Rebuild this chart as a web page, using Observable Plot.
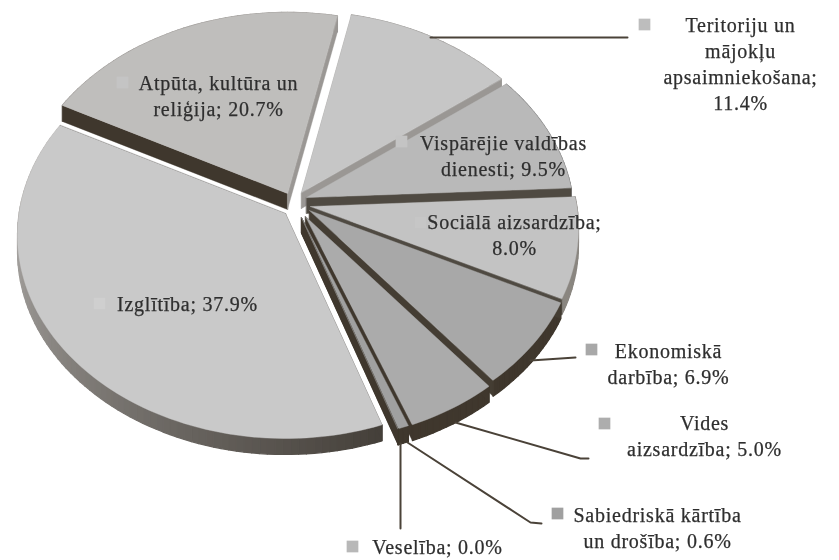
<!DOCTYPE html>
<html><head><meta charset="utf-8">
<script src="https://cdn.jsdelivr.net/npm/d3@7"></script>
<script src="https://cdn.jsdelivr.net/npm/@observablehq/plot@0.6"></script>
<style>html,body{margin:0;padding:0;background:#fff}svg{display:block;filter:blur(0.5px)}svg text{letter-spacing:0.75px}</style>
</head><body><div id="chart"></div>
<script>
// data (clockwise from the start angle)
const categories = ["Izglītība","Atpūta, kultūra un reliģija","Teritoriju un mājokļu apsaimniekošana","Vispārējie valdības dienesti","Sociālā aizsardzība","Ekonomiskā darbība","Vides aizsardzība","Sabiedriskā kārtība un drošība","Veselība"];
const values = [37.9,20.7,11.4,9.5,8.0,6.9,5.0,0.6,0.0];
// label texts
const labelLines = [["Izglītība; 37.9%"],["Atpūta, kultūra un","reliģija; 20.7%"],["Teritoriju un","mājokļu","apsaimniekošana;","11.4%"],["Vispārējie valdības","dienesti; 9.5%"],["Sociālā aizsardzība;","8.0%"],["Ekonomiskā","darbība; 6.9%"],["Vides","aizsardzība; 5.0%"],["Sabiedriskā kārtība","un drošība; 0.6%"],["Veselība; 0.0%"]];
const labelX = [187,218,740,503,514,668,704,657,437];
const labelY = [304,83,25,143,222,351,423,515,547];
const keyX = [99,122,644,401,420,591,604,557,352];
const keyY = [303,82,24,141,222,349,423,513,546];
const keyColor = ["#cfcfcf","#c4c4c4","#bdbdbd","#c4c4c4","#c6c6c6","#a8a8a8","#adadad","#a0a0a0","#b8b8b8"];
// styling of slices
const topColor = ["#c9c9c9","#bfbebc","#c6c6c6","#b9b9b9","#c3c3c3","#a8a8a8","#ababab","#a0a0a0","#a0a0a0"];
const startWall = ["#45403a","#3f372d","#9a9794","#9a9794","#4f4a42","#443d33","#3f372d","#3f372d","#3f372d"];
const endWall = ["#45403a","#9a9794","#9a9794","#4f4a42","#4f4a42","#443d33","#3f372d","#3f372d","#3f372d"];
const rimFrom = ["#45403a","#9a9794","#9a9794","#777777","#8a8680","#3f372d","#3f372d","#3f372d","#3f372d"];
const rimTo = ["#c4c2c0","#9a9794","#9a9794","#777777","#8a8680","#3f372d","#3f372d","#3f372d","#3f372d"];
const offsetX = [-15,-13,1,6,10,9,5,1,1];
const offsetY = [8,-12,-13,-8,1,5,11,12,12];
// leader lines [x,y] per label
const leaders = [
  [[430,37],[627,37]],
  [[530,360],[575,357]],
  [[455,422],[580,458],[588,458]],
  [[407,442],[530,522],[541,523]],
  [[400,443],[400,528]]
];
const order = [1,2,3,4,5,6,7,8,0];

const cx = 300, cy = 205, a = 266.4, b = 200.7, p = 0.108, depth = 16, startDeg = 161;
const project = (deg, r=1) => {
  const t = deg*Math.PI/180, u = r*Math.sin(t), v = -r*Math.cos(t), d = 1-p*v;
  return [a*u/d, b*v/d];
};
let acc = startDeg;
const spans = values.map(v => { const s = acc; acc += v*3.6; return [s, acc]; });

const polys = []; let id = 0;
const add = (pts, color, w=0.4) => { id++; for (const [x,y] of pts) polys.push({x,y,id,color,w}); };
for (const i of order) {
  const [s,e] = spans[i];
  const ax = cx+offsetX[i], ay = cy+offsetY[i];
  const n = Math.max(2, Math.ceil((e-s)/1.5));
  const arc = d3.range(n+1).map(k => { const [X,Y] = project(s+(e-s)*k/n); return [ax+X, ay+Y]; });
  const down = ([x,y]) => [x,y+depth];
  const A = [ax,ay];
  const mix = d3.interpolateRgb(rimFrom[i], rimTo[i]);
  for (let k=0;k<n;k++) add([arc[k],arc[k+1],down(arc[k+1]),down(arc[k])], mix(k/n), 1.2);
  add([A,arc[0],down(arc[0]),down(A)], startWall[i]);
  add([A,arc[n],down(arc[n]),down(A)], endWall[i]);
  add([A,...arc], topColor[i]);
}

const textRows = labelLines.flatMap((ls,i)=>ls.map((t,j)=>({t,x:labelX[i],y:labelY[i]+j*26})));
const keys = keyX.map((x,i)=>({x,y:keyY[i],c:keyColor[i]}));
const leaderRows = leaders.flatMap((l,i)=>l.map(([x,y])=>({x,y,i})));

const chart = Plot.plot({
  width:839,height:560,margin:0,
  x:{domain:[0,839],range:[0,839],axis:null},
  y:{domain:[0,560],range:[0,560],axis:null},
  marks:[
    Plot.line(polys,{x:"x",y:"y",z:"id",fill:"color",stroke:"color",strokeWidth:"w",curve:"linear-closed"}),
    Plot.line(leaderRows,{x:"x",y:"y",z:"i",stroke:"#4a4238",strokeWidth:2,curve:"linear"}),
    Plot.dot(keys,{x:"x",y:"y",symbol:"square",r:6.6,fill:"c"}),
    Plot.text(textRows,{x:"x",y:"y",text:"t",fontFamily:"Liberation Serif",fontSize:20,fill:"#2e2e2e",stroke:"#2e2e2e",strokeWidth:0.25})
  ]
});
document.getElementById("chart").append(chart);
</script></body></html>
